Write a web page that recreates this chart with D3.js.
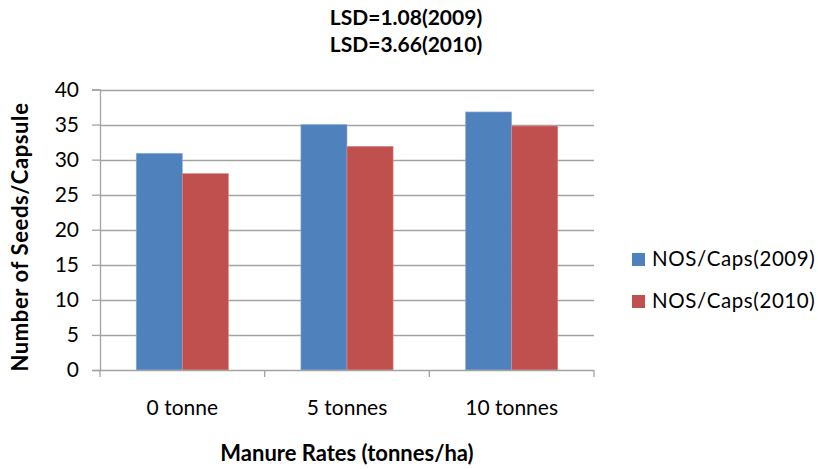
<!DOCTYPE html>
<html>
<head>
<meta charset="utf-8">
<script src="https://cdn.jsdelivr.net/npm/d3@7/dist/d3.min.js"></script>
<style>
  html, body { margin: 0; padding: 0; background: #fff; }
  svg { display: block; font-family: Lato, "Open Sans", sans-serif; }
</style>
</head>
<body>
<svg id="chart" width="818" height="469"></svg>
<script>
// Seeds per capsule under three manure rates, two seasons
const categories = ["0 tonne", "5 tonnes", "10 tonnes"];
const seriesNames = ["NOS/Caps(2009)", "NOS/Caps(2010)"];
const values2009 = [30.9, 35.0, 36.8];
const values2010 = [28.0, 31.9, 34.8];
const yTicks = [0, 5, 10, 15, 20, 25, 30, 35, 40];
const titleLines = ["LSD=1.08(2009)", "LSD=3.66(2010)"];
const colors = ["#4F81BD", "#C0504D"];

const svg = d3.select("#chart");
const plot = { left: 100, right: 594, top: 89.5, bottom: 370 };

const x0 = d3.scaleBand()
  .domain(categories)
  .range([plot.left, plot.right])
  .paddingInner(0.44)
  .paddingOuter(0.22);

const x1 = d3.scaleBand()
  .domain(seriesNames)
  .range([0, x0.bandwidth()]);

const y = d3.scaleLinear().domain([0, 40]).range([plot.bottom, plot.top]);

const gridColor = "#a3a3a3";

// horizontal gridlines
svg.append("g")
  .selectAll("line")
  .data(yTicks.filter(d => d > 0))
  .join("line")
  .attr("x1", plot.left).attr("x2", plot.right)
  .attr("y1", d => Math.round(y(d)) + 0.5).attr("y2", d => Math.round(y(d)) + 0.5)
  .attr("stroke", gridColor).attr("stroke-width", 1.3);

// y axis
const yAxis = d3.axisLeft(y).tickValues(yTicks).tickSize(8).tickPadding(13);
const gy = svg.append("g")
  .attr("transform", `translate(${plot.left},0)`)
  .call(yAxis);
gy.select(".domain").attr("stroke", gridColor).attr("stroke-width", 1.3);
gy.selectAll(".tick line").attr("stroke", gridColor).attr("stroke-width", 1.3);
gy.selectAll(".tick text")
  .attr("fill", "#000").style("font-size", "21px").style("font-family", "Lato, sans-serif");

// bars
const rows = categories.map((c, i) => ({ cat: c, vals: [values2009[i], values2010[i]] }));
svg.append("g")
  .selectAll("g")
  .data(rows)
  .join("g")
  .attr("transform", d => `translate(${x0(d.cat)},0)`)
  .selectAll("rect")
  .data(d => d.vals.map((v, j) => ({ name: seriesNames[j], v, j })))
  .join("rect")
  .attr("x", d => x1(d.name))
  .attr("width", x1.bandwidth())
  .attr("y", d => y(d.v))
  .attr("height", d => y(0) - y(d.v))
  .attr("fill", d => colors[d.j])
  .attr("stroke", d => d.j === 0 ? "#8fb0d8" : "#d98e8c")
  .attr("stroke-width", 0.6);

// x axis with ticks between categories
const step = x0.step();
const boundaries = [plot.left].concat(categories.map((c, i) => plot.left + step * (i + 1)));
const gx = svg.append("g");
gx.append("line")
  .attr("x1", plot.left).attr("x2", plot.right)
  .attr("y1", plot.bottom + 0.5).attr("y2", plot.bottom + 0.5)
  .attr("stroke", gridColor).attr("stroke-width", 1.3);
gx.selectAll("line.tk")
  .data(boundaries)
  .join("line")
  .attr("class", "tk")
  .attr("x1", d => d).attr("x2", d => d)
  .attr("y1", plot.bottom).attr("y2", plot.bottom + 7)
  .attr("stroke", gridColor).attr("stroke-width", 1.3);
gx.selectAll("text")
  .data(categories)
  .join("text")
  .attr("x", d => x0(d) + x0.bandwidth() / 2)
  .attr("y", 415)
  .attr("text-anchor", "middle")
  .style("font-size", "21px")
  .text(d => d);

// titles
svg.append("g")
  .selectAll("text")
  .data(titleLines)
  .join("text")
  .attr("x", 406)
  .attr("y", (d, i) => 25 + i * 27)
  .attr("text-anchor", "middle")
  .style("font-size", "21px")
  .style("font-weight", "bold")
  .text(d => d);

svg.append("text")
  .attr("x", 347)
  .attr("y", 461)
  .attr("text-anchor", "middle")
  .style("font-size", "22px")
  .style("font-weight", "bold")
  .text("Manure Rates (tonnes/ha)");

svg.append("text")
  .attr("transform", "translate(28,237) rotate(-90)")
  .attr("text-anchor", "middle")
  .style("font-size", "22px")
  .style("font-weight", "bold")
  .style("letter-spacing", "0.6px")
  .text("Number of Seeds/Capsule");

// legend
const legend = svg.append("g")
  .selectAll("g")
  .data(seriesNames)
  .join("g")
  .attr("transform", (d, i) => `translate(632,${253 + i * 42})`);
legend.append("rect")
  .attr("width", 13).attr("height", 13)
  .attr("fill", (d, i) => colors[i]);
legend.append("text")
  .attr("x", 20).attr("y", 13)
  .style("font-size", "20.5px")
  .style("letter-spacing", "0.6px")
  .text(d => d);
</script>
</body>
</html>
